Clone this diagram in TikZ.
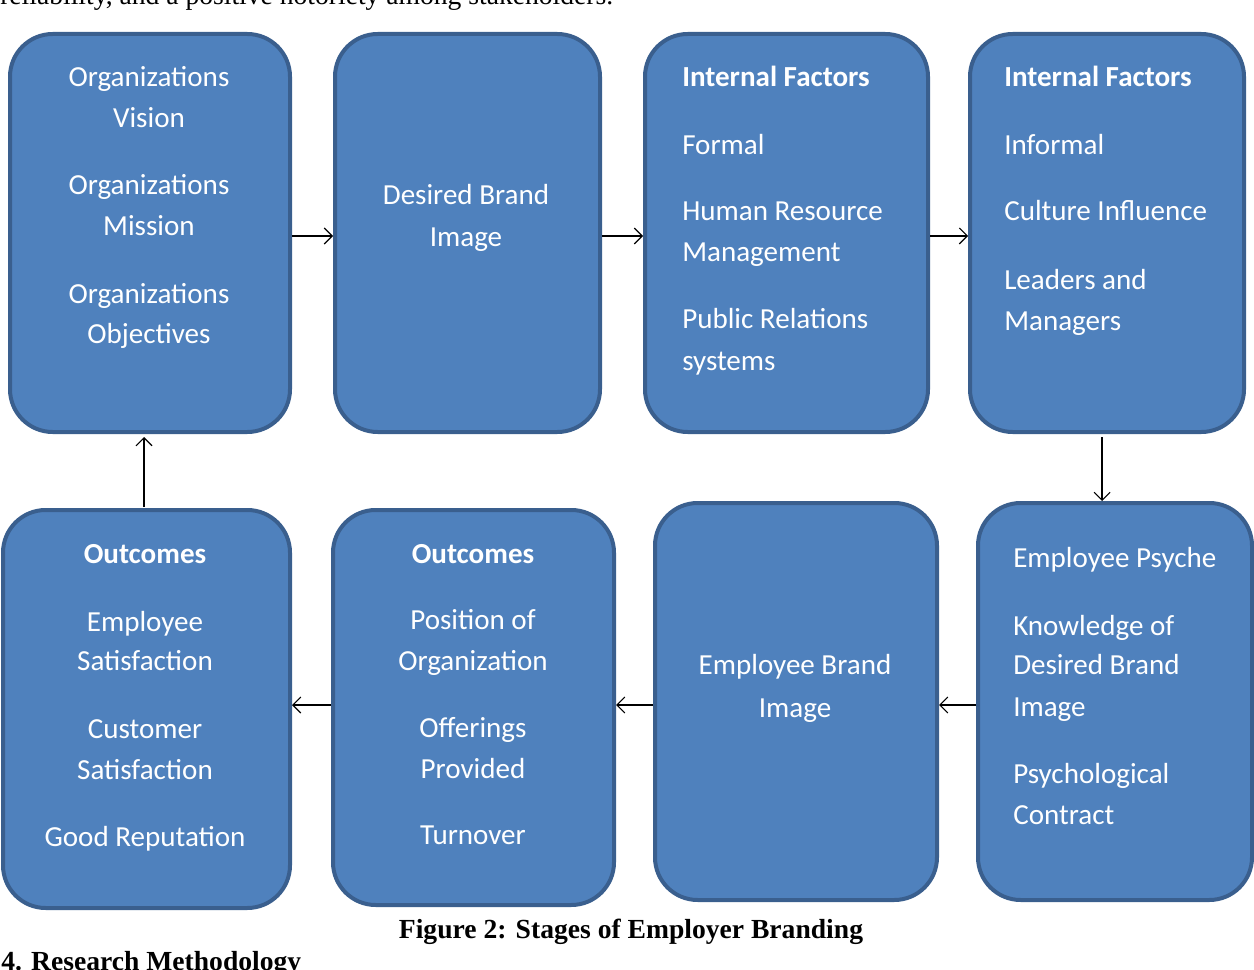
\documentclass[tikz,border=0pt]{standalone}
\usepackage{fontspec}
\setmainfont{Liberation Serif}
\newfontfamily\boxfont{Carlito}
\usetikzlibrary{arrows.meta,calc}
\definecolor{boxfill}{HTML}{4F81BD}
\definecolor{boxline}{HTML}{3A5F8E}
\begin{document}
\begin{tikzpicture}[x=0.75pt,y=-0.75pt,
 box/.style={draw=boxline, fill=boxfill, line width=3pt, rounded corners=32pt, inner sep=0pt},
 t/.style={text=white, font=\boxfont\fontsize{21.8}{26}\selectfont, anchor=base, inner sep=0pt},
 tb/.style={t, font=\boxfont\bfseries\fontsize{21.8}{26}\selectfont},
 tl/.style={t, anchor=base west},
 tlb/.style={tb, anchor=base west},
 arr/.style={draw=black, line width=0.8pt, -{Straight Barb[length=6pt,width=12pt]}},
 pagetext/.style={font=\fontsize{20.7}{25}\selectfont, inner sep=0pt, text=black}]
\useasboundingbox (0,0) rectangle (1254,970);
\clip (0,0) rectangle (1254,970);
% page text
\node[pagetext, anchor=base west] (prev) at (0,5) {reliability, and a positive notoriety among stakeholders.};
\node[pagetext, font=\bfseries\fontsize{20.7}{25}\selectfont, anchor=base] (cap) at (631,938) {Figure 2: Stages of Employer Branding};
\node[pagetext, font=\bfseries\fontsize{20.7}{25}\selectfont, anchor=base west] (sec) at (1,970) {4. Research Methodology};
% boxes
\node[box, minimum width=210pt, minimum height=298.5pt] (b1) at (150,233) {};
\node[box, minimum width=198.75pt, minimum height=298.5pt] (b2) at (467.5,233) {};
\node[box, minimum width=212.25pt, minimum height=298.5pt] (b3) at (786.5,233) {};
\node[box, minimum width=205.5pt, minimum height=298.5pt] (b4) at (1107,233) {};
\node[box, minimum width=215.25pt, minimum height=298.5pt] (b5) at (146.5,709) {};
\node[box, minimum width=210.75pt, minimum height=296.25pt] (b6) at (473.5,707.5) {};
\node[box, minimum width=211.5pt, minimum height=297.75pt] (b7) at (796,701.5) {};
\node[box, minimum width=205.5pt, minimum height=297.75pt] (b8) at (1115,701.5) {};
% box 1
\node[t] (t11) at (149,87) {Organizations};
\node[t] (t12) at (149,128) {Vision};
\node[t] (t13) at (149,195) {Organizations};
\node[t] (t14) at (149,236) {Mission};
\node[t] (t15) at (149,304) {Organizations};
\node[t] (t16) at (149,343) {Objectives};
% box 2
\node[t] (t21) at (466,205) {Desired Brand};
\node[t] (t22) at (466,247) {Image};
% box 3
\node[tlb] (t31) at (682,87) {Internal Factors};
\node[tl] (t32) at (682,155) {Formal};
\node[tl] (t33) at (682,221) {Human Resource};
\node[tl] (t34) at (682,262) {Management};
\node[tl] (t35) at (682,329) {Public Relations};
\node[tl] (t36) at (682,370) {systems};
% box 4
\node[tlb] (t41) at (1004,87) {Internal Factors};
\node[tl] (t42) at (1004,155) {Informal};
\node[tl] (t43) at (1004,221) {Culture Influence};
\node[tl] (t44) at (1004,290) {Leaders and};
\node[tl] (t45) at (1004,330) {Managers};
% box 5
\node[tb] (t51) at (145,563) {Outcomes};
\node[t] (t52) at (145,631) {Employee};
\node[t] (t53) at (145,670) {Satisfaction};
\node[t] (t54) at (145,738) {Customer};
\node[t] (t55) at (145,779) {Satisfaction};
\node[t] (t56) at (145,846) {Good Reputation};
% box 6
\node[tb] (t61) at (473,563) {Outcomes};
\node[t] (t62) at (473,629) {Position of};
\node[t] (t63) at (473,670) {Organization};
\node[t] (t64) at (473,737) {Offerings};
\node[t] (t65) at (473,778) {Provided};
\node[t] (t66) at (473,844) {Turnover};
% box 7
\node[t] (t71) at (795,674) {Employee Brand};
\node[t] (t72) at (795,717) {Image};
% box 8
\node[tl] (t81) at (1013,567) {Employee Psyche};
\node[tl] (t82) at (1013,635) {Knowledge of};
\node[tl] (t83) at (1013,674) {Desired Brand};
\node[tl] (t84) at (1013,716) {Image};
\node[tl] (t85) at (1013,783) {Psychological};
\node[tl] (t86) at (1013,824) {Contract};
% arrows
\coordinate (rowA) at (0,236);
\coordinate (rowB) at (0,705);
\coordinate (s4) at (1102,437);
\coordinate (s5) at (144,507);
\coordinate (e1) at (144,437);
\draw[arr] (b1.east |- rowA) -- (b2.west |- rowA);
\draw[arr] (b2.east |- rowA) -- (b3.west |- rowA);
\draw[arr] (b3.east |- rowA) -- (b4.west |- rowA);
\draw[arr] (s4) -- (s4 |- b8.north);
\draw[arr] (b8.west |- rowB) -- (b7.east |- rowB);
\draw[arr] (b7.west |- rowB) -- (b6.east |- rowB);
\draw[arr] (b6.west |- rowB) -- (b5.east |- rowB);
\draw[arr] (s5) -- (e1);
\end{tikzpicture}
\end{document}
